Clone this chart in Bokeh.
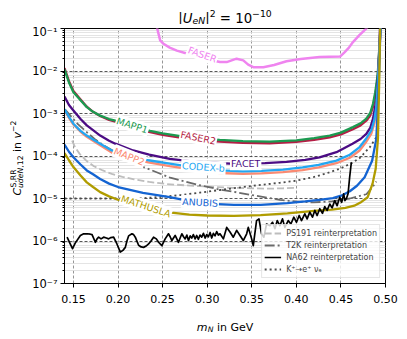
import math
from bokeh.plotting import figure
from bokeh.layouts import column, row
from bokeh.models import (Range1d, FixedTicker, Label, Legend, LegendItem,
                          CustomJSTickFormatter, PrintfTickFormatter)
from bokeh.embed import file_html
from bokeh.resources import INLINE

# ---------------- data (log10 of C) ----------------
x_ticks = [0.15, 0.20, 0.25, 0.30, 0.35, 0.40, 0.45, 0.50]
y_ticks = [1e-7, 1e-6, 1e-5, 1e-4, 1e-3, 1e-2, 1e-1]

mapp1_x = [0.1400, 0.1450, 0.1500, 0.1580, 0.1650, 0.1720, 0.1800, 0.1900, 0.1970, 0.2100, 0.2250, 0.2360,
           0.2500, 0.2700, 0.2900, 0.3140, 0.3400, 0.3700, 0.4000, 0.4200, 0.4375, 0.4500, 0.4635, 0.4720,
           0.4785, 0.4830, 0.4860, 0.4885, 0.4905, 0.4915, 0.4930, 0.4945]
mapp1_log = [-1.96, -2.27, -2.50, -2.69, -2.85, -2.96, -3.05, -3.13, -3.17, -3.26, -3.35, -3.41,
             -3.47, -3.53, -3.58, -3.62, -3.65, -3.66, -3.63, -3.58, -3.52, -3.45, -3.32, -3.23,
             -3.12, -2.98, -2.77, -2.50, -2.20, -2.00, -1.50, -0.90]
faser2_log = [-1.93, -2.24, -2.47, -2.67, -2.84, -2.96, -3.06, -3.15, -3.19, -3.29, -3.38, -3.44,
              -3.50, -3.57, -3.62, -3.66, -3.69, -3.70, -3.67, -3.62, -3.56, -3.49, -3.37, -3.28,
              -3.17, -3.04, -2.84, -2.58, -2.28, -2.08, -1.58, -0.95]

facet_x = [0.1400, 0.1450, 0.1500, 0.1580, 0.1650, 0.1720, 0.1800, 0.1900, 0.1970, 0.2170, 0.2350, 0.2580,
           0.2800, 0.3000, 0.3250, 0.3450, 0.3650, 0.3890, 0.4100, 0.4260, 0.4450, 0.4630, 0.4720, 0.4785,
           0.4830, 0.4860, 0.4897, 0.4920, 0.4940]
facet_log = [-2.60, -2.80, -2.93, -3.13, -3.28, -3.39, -3.52, -3.64, -3.71, -3.87, -3.97, -4.07,
             -4.12, -4.15, -4.18, -4.18, -4.17, -4.14, -4.09, -4.03, -3.91, -3.71, -3.60, -3.48,
             -3.33, -3.12, -2.69, -2.00, -0.90]

codex_x = [0.1400, 0.1450, 0.1500, 0.1580, 0.1650, 0.1720, 0.1800, 0.1930, 0.2100, 0.2340, 0.2580, 0.2800,
           0.3000, 0.3144, 0.3400, 0.3610, 0.3850, 0.4070, 0.4250, 0.4450, 0.4600, 0.4710, 0.4780, 0.4840,
           0.4875, 0.4897, 0.4915, 0.4930, 0.4945]
codex_log = [-2.90, -3.08, -3.24, -3.41, -3.52, -3.61, -3.71, -3.87, -3.98, -4.10, -4.18, -4.25,
             -4.31, -4.34, -4.36, -4.35, -4.32, -4.27, -4.21, -4.11, -3.97, -3.79, -3.60, -3.40,
             -3.15, -2.85, -2.30, -1.60, -0.90]
mapp2_log = [-2.92, -3.10, -3.26, -3.43, -3.55, -3.64, -3.75, -3.92, -4.03, -4.15, -4.24, -4.31,
             -4.37, -4.40, -4.42, -4.41, -4.38, -4.33, -4.27, -4.17, -4.04, -3.87, -3.68, -3.48,
             -3.23, -2.93, -2.38, -1.68, -0.95]

anubis_x = [0.1400, 0.1450, 0.1500, 0.1580, 0.1650, 0.1720, 0.1800, 0.1900, 0.2000, 0.2280, 0.2580, 0.2750,
            0.3000, 0.3300, 0.3600, 0.3900, 0.4100, 0.4260, 0.4410, 0.4520, 0.4600, 0.4680, 0.4766, 0.4850,
            0.4897, 0.4915, 0.4930, 0.4945]
anubis_log = [-3.73, -3.90, -4.03, -4.20, -4.34, -4.43, -4.54, -4.65, -4.73, -4.87, -4.97, -5.04,
              -5.12, -5.15, -5.15, -5.11, -5.07, -5.03, -4.99, -4.92, -4.83, -4.70, -4.50, -4.11,
              -3.60, -2.80, -1.90, -0.90]

mathusla_x = [0.1400, 0.1450, 0.1500, 0.1580, 0.1650, 0.1720, 0.1800, 0.1900, 0.2000, 0.2200, 0.2400, 0.2600,
              0.2800, 0.3000, 0.3300, 0.3600, 0.3900, 0.4200, 0.4400, 0.4550, 0.4650, 0.4730, 0.4800, 0.4855,
              0.4890, 0.4915, 0.4930, 0.4940]
mathusla_log = [-3.93, -4.10, -4.26, -4.46, -4.62, -4.73, -4.85, -4.95, -5.03, -5.16, -5.26, -5.33,
                -5.38, -5.40, -5.41, -5.39, -5.35, -5.29, -5.26, -5.22, -5.17, -5.08, -4.97, -4.65,
                -4.30, -3.60, -2.20, -0.90]

faser_x = [0.2430, 0.2436, 0.2473, 0.2510, 0.2580, 0.2660, 0.2790, 0.2950, 0.3144, 0.3219, 0.3330, 0.3405,
           0.3460, 0.3517, 0.3630, 0.3750, 0.3890, 0.4050, 0.4260, 0.4490, 0.4540, 0.4590, 0.4635, 0.4710,
           0.4785, 0.4820]
faser_log = [-0.85, -0.97, -1.28, -1.36, -1.45, -1.52, -1.60, -1.70, -1.79, -1.79, -1.71, -1.75,
             -1.85, -1.91, -1.91, -1.86, -1.77, -1.72, -1.67, -1.66, -1.56, -1.45, -1.32, -1.15,
             -1.00, -0.92]

ps191_x = [0.1485, 0.1520, 0.1570, 0.1650, 0.1730, 0.1830, 0.1930, 0.2050, 0.2180, 0.2350, 0.2550, 0.2750,
           0.2920, 0.3100, 0.3300, 0.3500, 0.3670, 0.3850, 0.4000]
ps191_log = [-3.64, -3.80, -3.95, -4.12, -4.24, -4.34, -4.42, -4.49, -4.55, -4.61, -4.66, -4.69,
             -4.71, -4.73, -4.75, -4.76, -4.77, -4.76, -4.75]

t2k_x = [0.1405, 0.1466, 0.1550, 0.1650, 0.1750, 0.1840, 0.1950, 0.2100, 0.2287, 0.2585, 0.2900, 0.3144,
         0.3293, 0.3500, 0.3700, 0.3816, 0.4040, 0.4190, 0.4400, 0.4600, 0.4785, 0.4859, 0.4897]
t2k_log = [-2.90, -3.05, -3.25, -3.44, -3.62, -3.75, -3.88, -4.03, -4.26, -4.51, -4.68, -4.79,
           -4.84, -4.92, -4.99, -5.03, -5.08, -5.09, -5.07, -5.00, -4.90, -4.72, -4.60]

kenu_x = [0.1400, 0.2000, 0.2300, 0.2500, 0.2700, 0.2920, 0.3144, 0.3400, 0.3600, 0.3816, 0.4000, 0.4188,
          0.4350, 0.4487, 0.4610, 0.4710, 0.4785, 0.4822, 0.4897, 0.4925]
kenu_log = [-5.00, -5.00, -4.99, -4.96, -4.92, -4.86, -4.80, -4.73, -4.68, -4.63, -4.58, -4.50,
            -4.40, -4.30, -4.18, -4.05, -3.88, -3.80, -3.56, -3.30]

na62_x = [0.1429, 0.1460, 0.1490, 0.1520, 0.1578, 0.1615, 0.1653, 0.1690, 0.1709, 0.1746, 0.1765, 0.1783,
          0.1810, 0.1839, 0.1870, 0.1895, 0.1920, 0.1951, 0.1988, 0.2026, 0.2055, 0.2082, 0.2100, 0.2119,
          0.2156, 0.2175, 0.2194, 0.2231, 0.2260, 0.2287, 0.2315, 0.2343, 0.2370, 0.2399, 0.2430, 0.2455,
          0.2492, 0.2529, 0.2566, 0.2585, 0.2604, 0.2641, 0.2660, 0.2678, 0.2716, 0.2735, 0.2753, 0.2772,
          0.2790, 0.2810, 0.2827, 0.2845, 0.2865, 0.2883, 0.2902, 0.2920, 0.2939, 0.2958, 0.2977, 0.2995,
          0.3014, 0.3033, 0.3051, 0.3070, 0.3088, 0.3107, 0.3126, 0.3144, 0.3182, 0.3219, 0.3256, 0.3293,
          0.3331, 0.3368, 0.3405, 0.3443, 0.3461, 0.3499, 0.3517, 0.3554, 0.3581, 0.3610, 0.3636, 0.3666,
          0.3704, 0.3733, 0.3760, 0.3786, 0.3815, 0.3845, 0.3871, 0.3909, 0.3939, 0.3972, 0.4002, 0.4032,
          0.4058, 0.4095, 0.4121, 0.4151, 0.4181, 0.4207, 0.4233, 0.4263, 0.4293, 0.4319, 0.4345, 0.4375,
          0.4401, 0.4431, 0.4457, 0.4487, 0.4509, 0.4531, 0.4545, 0.4562, 0.4580, 0.4598, 0.4617]
na62_log = [-5.91, -6.05, -6.18, -6.05, -5.87, -5.83, -5.83, -5.84, -5.85, -6.03, -5.95, -5.91,
            -5.95, -5.91, -5.93, -5.95, -5.92, -5.91, -6.07, -6.26, -6.22, -6.15, -6.00, -5.88,
            -5.83, -5.85, -5.91, -6.10, -6.14, -6.15, -6.12, -6.07, -6.00, -5.91, -5.95, -6.03,
            -6.11, -5.95, -5.83, -5.90, -5.99, -5.87, -5.95, -6.03, -5.83, -5.90, -5.95, -5.86,
            -5.99, -5.88, -5.93, -5.85, -5.95, -5.87, -5.96, -5.86, -5.91, -5.82, -5.93, -5.85,
            -5.90, -5.80, -5.93, -5.82, -5.88, -5.78, -5.86, -5.83, -5.95, -5.68, -5.79, -5.91,
            -5.75, -5.87, -5.99, -5.83, -5.68, -5.95, -6.11, -5.52, -5.48, -5.83, -5.91, -5.60,
            -5.64, -5.56, -5.71, -5.52, -5.64, -5.48, -5.68, -5.52, -5.60, -5.44, -5.56, -5.40,
            -5.52, -5.36, -5.48, -5.32, -5.44, -5.28, -5.40, -5.24, -5.35, -5.19, -5.28, -5.13,
            -5.22, -5.05, -5.17, -4.97, -5.09, -4.89, -5.05, -5.00, -4.89, -4.50, -4.15]

curve_labels = ["FASER", "MAPP1", "FASER2", "MAPP2", "CODEX-b", "FACET", "ANUBIS", "MATHUSLA"]
label_x = [0.2946, 0.2160, 0.2900, 0.2126, 0.2958, 0.3432, 0.2920, 0.2313]
label_log = [-1.61, -3.28, -3.57, -4.01, -4.26, -4.18, -5.09, -5.18]
label_angle_deg = [-20, -18, -11, -22, -4, 0, -3, -18]

legend_labels = ["PS191 reinterpretation", "T2K reinterpretation", "NA62 reinterpretation",
                 "K\u207a\u2192e\u207a \u03bd\u2091"]

C_FASER = "#ef84ef"
C_FASER2 = "#b51d45"
C_MAPP1 = "#1b9a50"
C_FACET = "#4b0c84"
C_MAPP2 = "#fa8a72"
C_CODEX = "#22a6f2"
C_ANUBIS = "#1464d2"
C_MATH = "#b09c00"


def pw(v):
    return [10.0 ** e for e in v]


FONT = "DejaVu Sans"

# page layout (pixels from the page's top-left corner)
TITLE_H = 24          # title strip: page y 0..24
YLAB_W = 24           # y-label strip: page x 0..24
XLAB_TOP = 310        # x-label strip: page y 310..337
W_ALL = 405

# ---------------- main plot ----------------
p = figure(frame_width=321, frame_height=255,
           x_range=Range1d(0.14, 0.50), y_range=Range1d(1e-7, 1e-1),
           y_axis_type="log", output_backend="svg", toolbar_location=None,
           min_border_left=64 - YLAB_W, min_border_right=20,
           min_border_top=28 - TITLE_H, min_border_bottom=XLAB_TOP - 283)
p.background_fill_color = "white"
p.border_fill_color = "white"
p.outline_line_color = "black"
p.outline_line_width = 1
p.outline_line_alpha = 1

xt = FixedTicker(ticks=x_ticks)
yminor = [m * 10.0 ** e for e in range(-7, -1) for m in range(2, 10)]
yt = FixedTicker(ticks=y_ticks, minor_ticks=yminor)
p.xaxis.ticker = xt
p.yaxis.ticker = yt
p.xgrid.ticker = xt
p.ygrid.ticker = yt
p.xaxis.formatter = PrintfTickFormatter(format="%.2f")
p.yaxis.formatter = CustomJSTickFormatter(code="""
const s = {"-":"\u207b","0":"\u2070","1":"\u00b9","2":"\u00b2","3":"\u00b3","4":"\u2074",
           "5":"\u2075","6":"\u2076","7":"\u2077","8":"\u2078","9":"\u2079"};
const e = Math.round(Math.log10(tick));
return "10" + String(e).split("").map(c => s[c]).join("");
""")
for ax in (p.xaxis, p.yaxis):
    ax.axis_line_color = "black"
    ax.major_tick_line_color = "black"
    ax.major_tick_out = 4
    ax.major_tick_in = 0
    ax.minor_tick_out = 2
    ax.minor_tick_in = 0
    ax.major_label_text_font = FONT
    ax.major_label_text_color = "black"
p.xaxis.major_label_text_font_size = "11px"
p.yaxis.major_label_text_font_size = "11.5px"
p.xaxis.minor_tick_line_color = None
p.xaxis.major_label_standoff = 7
p.yaxis.major_label_standoff = 3

p.xgrid.grid_line_color = "#8a8a8a"
p.xgrid.grid_line_dash = "3 2"
p.xgrid.grid_line_width = 0.9
p.ygrid.grid_line_color = "#444444"
p.ygrid.grid_line_dash = "3 2"
p.ygrid.grid_line_width = 0.9
p.ygrid.minor_grid_line_color = "#dddddd"
p.ygrid.minor_grid_line_width = 0.8

r_ps = p.line(ps191_x, pw(ps191_log), line_color="#bdbdbd", line_width=1.8, line_dash="7 3")
r_t2k = p.line(t2k_x, pw(t2k_log), line_color="#6a6a6a", line_width=1.8, line_dash="10 3 2 3")
r_k = p.line(kenu_x, pw(kenu_log), line_color="#4a4a4a", line_width=1.8, line_dash="2 3")

LW = 2.3
p.line(faser_x, pw(faser_log), line_color=C_FASER, line_width=2.5, line_join="round")
p.line(mapp1_x, pw(faser2_log), line_color=C_FASER2, line_width=LW, line_join="round")
p.line(mapp1_x, pw(mapp1_log), line_color=C_MAPP1, line_width=LW, line_join="round")
p.line(facet_x, pw(facet_log), line_color=C_FACET, line_width=LW, line_join="round")
p.line(codex_x, pw(mapp2_log), line_color=C_MAPP2, line_width=LW, line_join="round")
p.line(codex_x, pw(codex_log), line_color=C_CODEX, line_width=LW, line_join="round")
p.line(anubis_x, pw(anubis_log), line_color=C_ANUBIS, line_width=LW, line_join="round")
p.line(mathusla_x, pw(mathusla_log), line_color=C_MATH, line_width=LW, line_join="round")

r_na62 = p.line(na62_x, pw(na62_log), line_color="black", line_width=1.7, line_join="round")

label_colors = [C_FASER, C_MAPP1, C_FASER2, C_MAPP2, C_CODEX, C_FACET, C_ANUBIS, C_MATH]
for t, lx, ly, ang, col in zip(curve_labels, label_x, label_log, label_angle_deg, label_colors):
    p.add_layout(Label(x=lx, y=10.0 ** ly, text=t, angle=math.radians(ang),
                       text_align="center", text_baseline="middle",
                       text_font=FONT, text_font_size="9.5px", text_color=col,
                       background_fill_color="white", background_fill_alpha=1.0, padding=1))

legend = Legend(items=[LegendItem(label=legend_labels[0], renderers=[r_ps]),
                       LegendItem(label=legend_labels[1], renderers=[r_t2k]),
                       LegendItem(label=legend_labels[2], renderers=[r_na62]),
                       LegendItem(label=legend_labels[3], renderers=[r_k])],
                location="bottom_right")
legend.label_text_font = FONT
legend.label_text_font_size = "8px"
legend.glyph_width = 17
legend.glyph_height = 12
legend.label_height = 12
legend.spacing = 0
legend.padding = 2
legend.margin = 5
legend.label_standoff = 5
legend.border_line_color = "#cccccc"
legend.background_fill_alpha = 0.8
p.add_layout(legend)

MAIN_H = (28 - TITLE_H) + 255 + (XLAB_TOP - 283)


# ---------------- text strips (small figures without axes) ----------------
def strip(w, h):
    f = figure(frame_width=w, frame_height=h, x_range=Range1d(0, 1), y_range=Range1d(0, 1),
               output_backend="svg", toolbar_location=None, min_border=0, title=None,
               x_axis_location=None, y_axis_location=None)
    f.outline_line_color = None
    f.grid.visible = False
    f.background_fill_color = "white"
    f.border_fill_color = "white"
    return f


def piece(f, left, bottom, s, px, py, size, italic=False, angle=0.0):
    f.add_layout(Label(x=px - left, y=bottom - py, x_units="screen", y_units="screen", text=s,
                       angle=angle, text_align="left", text_baseline="alphabetic",
                       text_font=FONT, text_font_size=f"{size}px",
                       text_font_style="italic" if italic else "normal", text_color="black"))


title_f = strip(W_ALL, TITLE_H)
ylab_f = strip(YLAB_W, MAIN_H)
xlab_f = strip(W_ALL, 337 - XLAB_TOP)

# title |U_eN|^2 = 10^-10
T = (title_f, 0, TITLE_H)
piece(*T, "|", 177.8, 18.0, 13.3)
piece(*T, "U", 182.3, 18.0, 13.3, italic=True)
piece(*T, "eN", 192.0, 20.3, 9.3, italic=True)
piece(*T, "|", 204.7, 18.0, 13.3)
piece(*T, "2", 209.2, 13.0, 9.3)
piece(*T, "= 10", 219.3, 18.0, 13.3)
piece(*T, "\u221210", 251.6, 13.0, 9.3)

# x label  m_N in GeV
X = (xlab_f, 0, 337)
piece(*X, "m", 196.3, 326.5, 11, italic=True)
piece(*X, "N", 207.2, 329.0, 7.7, italic=True)
piece(*X, "in GeV", 216.5, 326.5, 11)

# y label  C^{S,RR}_{udeN,12} in v^-2 (rotated)
Y = (ylab_f, 0, XLAB_TOP)
R = math.pi / 2
piece(*Y, "C", 17, 191, 11, italic=True, angle=R)
piece(*Y, "S,RR", 12.5, 183, 7.7, angle=R)
piece(*Y, "udeN", 19.5, 183.5, 7.7, italic=True, angle=R)
piece(*Y, ",12", 19.5, 163.2, 7.7, angle=R)
piece(*Y, "in", 17, 147.5, 11, angle=R)
piece(*Y, "v", 17, 134, 11, italic=True, angle=R)
piece(*Y, "\u22122", 12.5, 127.5, 7.7, angle=R)

layout = column(title_f, row(ylab_f, p), xlab_f)
open("out.html", "w").write(file_html(layout, INLINE))
